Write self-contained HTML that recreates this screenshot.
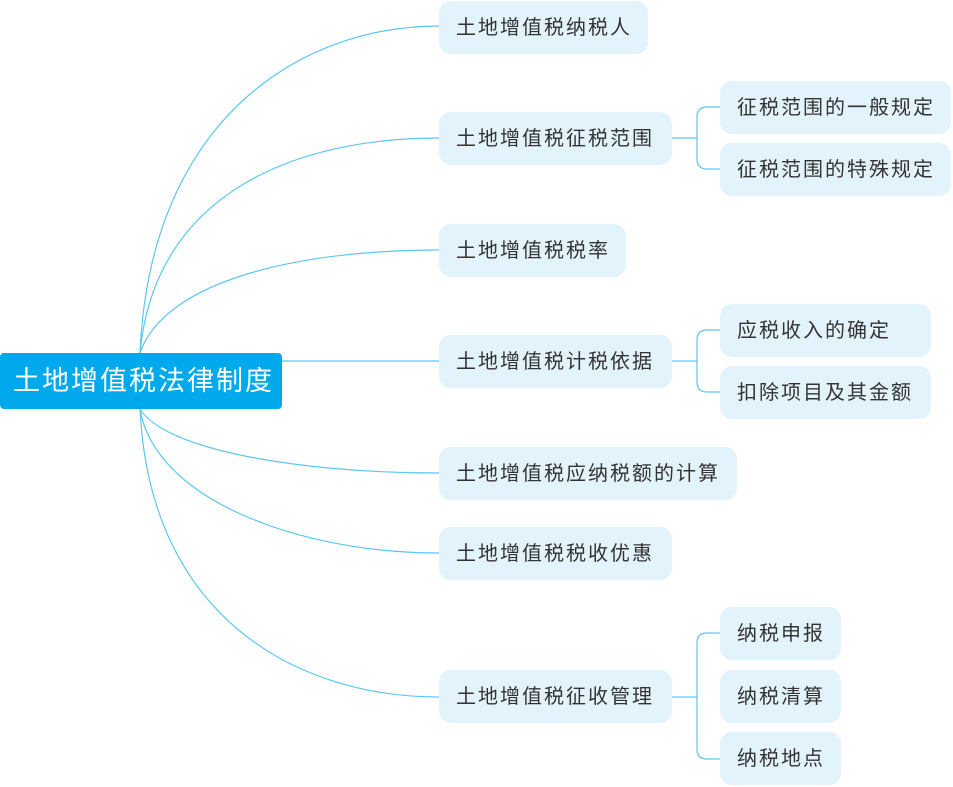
<!DOCTYPE html>
<html><head><meta charset="utf-8"><style>
body{margin:0;width:953px;height:787px;background:#fff;position:relative;overflow:hidden;font-family:"Liberation Sans","Noto Sans CJK SC",sans-serif}
.n{position:absolute;background:#e3f3fc;border-radius:12px;color:#333;font-size:20px;line-height:54px;padding-left:17px;box-sizing:border-box;height:53px;letter-spacing:2px}
.r{position:absolute;left:0;top:353px;width:282px;height:56px;background:#00a9ec;border-radius:4px;color:#fff;font-size:27px;line-height:56px;padding-left:13px;box-sizing:border-box;letter-spacing:2px}
svg{position:absolute;left:0;top:0}
</style></head><body>
<svg width="953" height="787" fill="none" stroke="#5cc6f2" stroke-width="1.2">
<path d="M140,353 C150,120 300,26 439,26"/>
<path d="M140,353 C155,190 300,138 439,138"/>
<path d="M140,353 C165,280 300,250 439,250"/>
<path d="M282,361 L439,361"/>
<path d="M140,409 C165,450 300,473 439,473"/>
<path d="M140,409 C155,500 300,553 439,553"/>
<path d="M140,409 C150,620 300,697 439,697"/>
<path d="M672,138 H697 M720,107 H707 Q697,107 697,117 V159 Q697,169 707,169 H720"/>
<path d="M672,361 H697 M720,330 H707 Q697,330 697,340 V382 Q697,392 707,392 H720"/>
<path d="M672,697 H697 M720,633 H707 Q697,633 697,643 V749 Q697,759 707,759 H720"/>
</svg>
<div class="r">土地增值税法律制度</div>
<div class="n" style="left:439px;top:1px;width:209px">土地增值税纳税人</div>
<div class="n" style="left:439px;top:112px;width:233px">土地增值税征税范围</div>
<div class="n" style="left:439px;top:224px;width:187px">土地增值税税率</div>
<div class="n" style="left:439px;top:335px;width:233px">土地增值税计税依据</div>
<div class="n" style="left:439px;top:447px;width:298px">土地增值税应纳税额的计算</div>
<div class="n" style="left:439px;top:527px;width:233px">土地增值税税收优惠</div>
<div class="n" style="left:439px;top:670px;width:233px">土地增值税征收管理</div>
<div class="n" style="left:720px;top:81px;width:231px">征税范围的一般规定</div>
<div class="n" style="left:720px;top:143px;width:231px">征税范围的特殊规定</div>
<div class="n" style="left:720px;top:304px;width:211px">应税收入的确定</div>
<div class="n" style="left:720px;top:366px;width:211px">扣除项目及其金额</div>
<div class="n" style="left:720px;top:607px;width:121px">纳税申报</div>
<div class="n" style="left:720px;top:670px;width:121px">纳税清算</div>
<div class="n" style="left:720px;top:732px;width:121px">纳税地点</div>
</body></html>
